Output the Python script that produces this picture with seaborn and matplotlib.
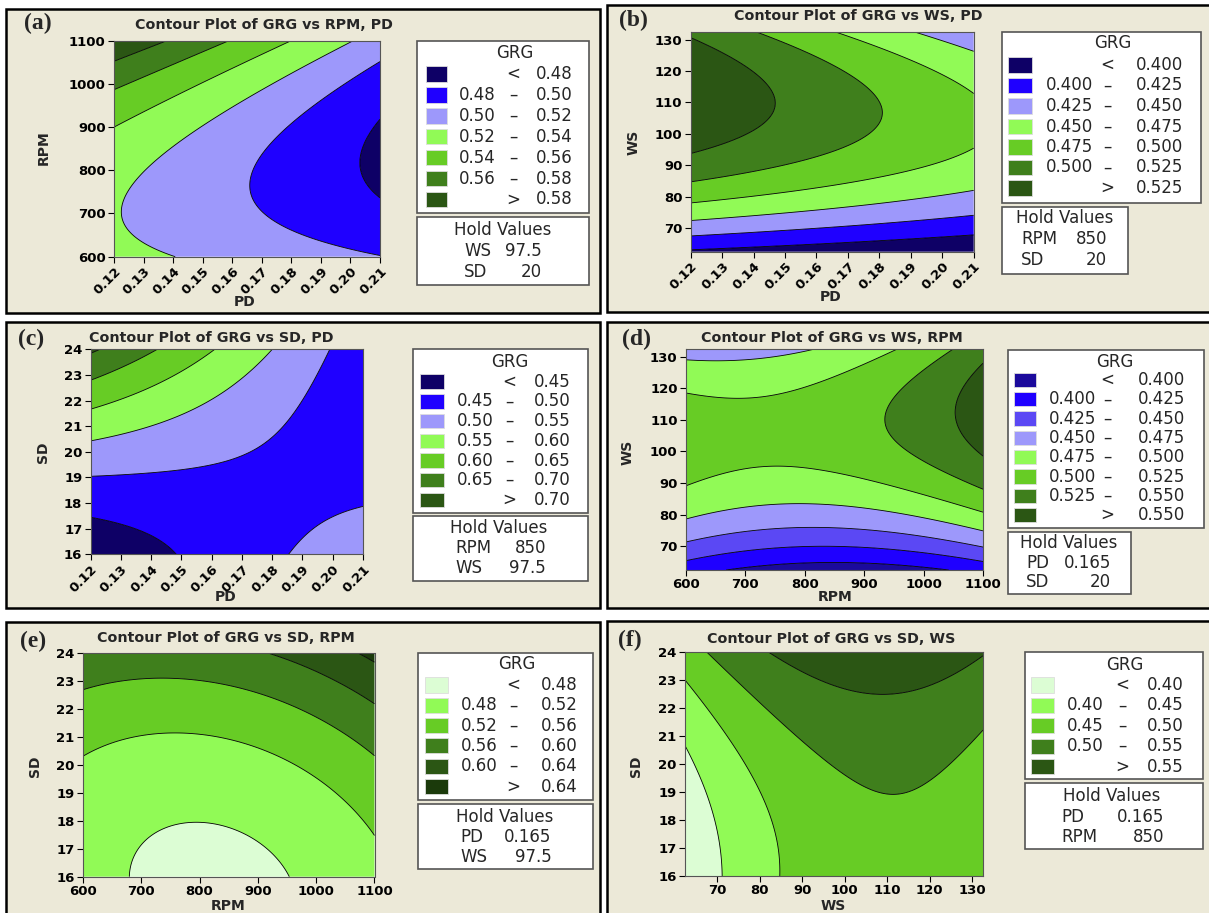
import numpy as np
import matplotlib
matplotlib.use("Agg")
import matplotlib.pyplot as plt
from matplotlib.patches import Rectangle
import seaborn as sns

sns.set_style("ticks")
plt.rcParams['font.family'] = ['DejaVu Sans']

# ---------------- data ----------------
PD_TICKS = [0.12, 0.13, 0.14, 0.15, 0.16, 0.17, 0.18, 0.19, 0.20, 0.21]
RPM_TICKS = [600, 700, 800, 900, 1000, 1100]
WS_TICKS = [70, 80, 90, 100, 110, 120, 130]
SD_TICKS = [16, 17, 18, 19, 20, 21, 22, 23, 24]

PD_RANGE = [0.12, 0.21]
RPM_RANGE = [600, 1100]
WS_RANGE = [62.5, 132.5]
SD_RANGE = [16, 24]

# quadratic response-surface coefficients (coded units):
# [b0, b_x, b_y, b_xx, b_yy, b_xy]
COEF_A = [0.504, -0.0277, 0.0205, 0.0, 0.0297, -0.0151]
COEF_B = [0.5047, -0.0278, 0.0451, 0.0, -0.074, -0.017]
COEF_C = [0.505, -0.0289, 0.0585, 0.0, 0.026, -0.0895]
COEF_D = [0.5065, 0.0188, 0.0461, 0.0228, -0.0732, 0.0197]
COEF_E = [0.5052, 0.019, 0.0593, 0.03, 0.0256, 0.011]
COEF_F = [0.5014, 0.048, 0.0498, -0.064, 0.028, -0.01]

LEVELS_A = [0.48, 0.50, 0.52, 0.54, 0.56, 0.58]
LEVELS_B = [0.400, 0.425, 0.450, 0.475, 0.500, 0.525]
LEVELS_C = [0.45, 0.50, 0.55, 0.60, 0.65, 0.70]
LEVELS_D = [0.400, 0.425, 0.450, 0.475, 0.500, 0.525, 0.550]
LEVELS_E = [0.48, 0.52, 0.56, 0.60, 0.64]
LEVELS_F = [0.40, 0.45, 0.50, 0.55]

HOLD_A = [["WS", "97.5"], ["SD", "20"]]
HOLD_B = [["RPM", "850"], ["SD", "20"]]
HOLD_C = [["RPM", "850"], ["WS", "97.5"]]
HOLD_D = [["PD", "0.165"], ["SD", "20"]]
HOLD_E = [["PD", "0.165"], ["WS", "97.5"]]
HOLD_F = [["PD", "0.165"], ["RPM", "850"]]

TITLES = ["Contour Plot of GRG vs RPM, PD", "Contour Plot of GRG vs WS, PD",
          "Contour Plot of GRG vs SD, PD", "Contour Plot of GRG vs WS, RPM",
          "Contour Plot of GRG vs SD, RPM", "Contour Plot of GRG vs SD, WS"]
TAGS = ["(a)", "(b)", "(c)", "(d)", "(e)", "(f)"]

# ---------------- colours ----------------
NAVY = '#0e0066'; NAVY2 = '#1b0a9c'; BLUE = '#1f00ff'; MIDBLUE = '#5b48f4'
LAV = '#9d98fb'; LGREEN = '#91fa56'; GREEN = '#67cc25'; DGREEN = '#3f7f1c'
DDGREEN = '#2b5614'; DDDGREEN = '#1b3a0b'; PALE = '#dcfdd4'
BG = '#ece9d8'

PAL7 = sns.color_palette([NAVY, BLUE, LAV, LGREEN, GREEN, DGREEN, DDGREEN])
PAL_D = sns.color_palette([NAVY2, BLUE, MIDBLUE, LAV, LGREEN, GREEN, DGREEN, DDGREEN])
PAL_E = sns.color_palette([PALE, LGREEN, GREEN, DGREEN, DDGREEN, DDDGREEN])
PAL_F = sns.color_palette([PALE, LGREEN, GREEN, DGREEN, DDGREEN])

W, H = 1209, 913
fig = plt.figure(figsize=(W / 100, H / 100), dpi=100, facecolor='white')
ov = fig.add_axes([0, 0, 1, 1], zorder=0)
ov.set_xlim(0, W); ov.set_ylim(H, 0); ov.axis('off')


def frect(l, r, t, b):
    return [l / W, 1 - b / H, (r - l) / W, (b - t) / H]


panels = [
    dict(border=(5.5, 600, 9, 313), ax=(114, 380, 40.7, 256.7),
         xr=PD_RANGE, yr=RPM_RANGE, xt=PD_TICKS, yt=RPM_TICKS, xfmt="%.2f", yfmt="%d", rot=True,
         xl="PD", yl="RPM", xlp=(245, 302), ylp=(44, 148),
         coef=COEF_A, lev=LEVELS_A, pal=PAL7, dec=2, hold=HOLD_A,
         title=(264, 25), tag=(24, 23),
         leg=(417, 589, 40.7, 213), grg=(515, 53), row0=74, dy=20.9, sw=(426, 447), n1=496, dash=513, n2=573,
         hbox=(417, 589, 216.7, 285), htitle=(503, 230), hrows=(251, 272), hname=464, hval=542),
    dict(border=(607, 1212, 5, 311.7), ax=(690.7, 973.7, 31.7, 251.7),
         xr=PD_RANGE, yr=WS_RANGE, xt=PD_TICKS, yt=WS_TICKS, xfmt="%.2f", yfmt="%d", rot=True,
         xl="PD", yl="WS", xlp=(831, 297), ylp=(634, 142),
         coef=COEF_B, lev=LEVELS_B, pal=PAL7, dec=3, hold=HOLD_B,
         title=(858, 16), tag=(619, 20),
         leg=(1002, 1201, 31.7, 202.7), grg=(1113, 43.3), row0=65, dy=20.5, sw=(1008, 1032), n1=1093, dash=1107, n2=1183,
         hbox=(1002, 1128, 206.7, 274), htitle=(1064.5, 218), hrows=(239, 260), hname=1021, hval=1107),
    dict(border=(5.5, 600, 322, 608), ax=(90.7, 363, 349.3, 554.3),
         xr=PD_RANGE, yr=SD_RANGE, xt=PD_TICKS, yt=SD_TICKS, xfmt="%.2f", yfmt="%d", rot=True,
         xl="PD", yl="SD", xlp=(226, 597), ylp=(42.5, 452),
         coef=COEF_C, lev=LEVELS_C, pal=PAL7, dec=2, hold=HOLD_C,
         title=(211, 337.7), tag=(18, 339),
         leg=(413, 587.6, 349, 513), grg=(510, 361.7), row0=381.7, dy=19.7, sw=(420, 443.6), n1=494, dash=509, n2=571,
         hbox=(413, 587.6, 516, 581), htitle=(499, 528), hrows=(548, 568), hname=455, hval=546),
    dict(border=(607, 1212, 322, 608), ax=(686, 983, 348.7, 570),
         xr=RPM_RANGE, yr=WS_RANGE, xt=RPM_TICKS, yt=WS_TICKS, xfmt="%d", yfmt="%d", rot=False,
         xl="RPM", yl="WS", xlp=(835, 597), ylp=(628, 452),
         coef=COEF_D, lev=LEVELS_D, pal=PAL_D, dec=3, hold=HOLD_D,
         title=(832, 337.7), tag=(622, 339),
         leg=(1008, 1204, 350, 527.7), grg=(1115, 361.7), row0=380, dy=19.3, sw=(1014, 1036), n1=1096, dash=1107, n2=1185,
         hbox=(1008, 1131, 532, 594), htitle=(1069, 543), hrows=(562.7, 581.7), hname=1026, hval=1111),
    dict(border=(5.5, 600, 621.7, 916), ax=(83, 374.5, 652.7, 876.7),
         xr=RPM_RANGE, yr=SD_RANGE, xt=RPM_TICKS, yt=SD_TICKS, xfmt="%d", yfmt="%d", rot=False,
         xl="RPM", yl="SD", xlp=(228, 906), ylp=(35, 766.7),
         coef=COEF_E, lev=LEVELS_E, pal=PAL_E, dec=2, hold=HOLD_E,
         title=(226, 637.7), tag=(20, 641.7),
         leg=(418, 592.7, 652.7, 800), grg=(516.6, 664), row0=685, dy=20.3, sw=(425, 448), n1=498, dash=513, n2=578,
         hbox=(418, 592.7, 804, 869), htitle=(505, 816.7), hrows=(836.7, 856.7), hname=460.5, hval=551.7),
    dict(border=(607, 1212, 620.7, 916), ax=(685, 983, 652, 876),
         xr=WS_RANGE, yr=SD_RANGE, xt=WS_TICKS, yt=SD_TICKS, xfmt="%d", yfmt="%d", rot=False,
         xl="WS", yl="SD", xlp=(833, 906), ylp=(636, 766.7),
         coef=COEF_F, lev=LEVELS_F, pal=PAL_F, dec=2, hold=HOLD_F,
         title=(831, 639), tag=(618, 640),
         leg=(1025, 1203, 651.7, 779), grg=(1125, 665), row0=685, dy=20.4, sw=(1031, 1054), n1=1104, dash=1122, n2=1184,
         hbox=(1025, 1203, 782.7, 849), htitle=(1112, 795.7), hrows=(816.7, 837.3), hname=1061, hval=1164),
]

for i, p in enumerate(panels):
    # panel background
    l, r, t, b = p['border']
    ov.add_patch(Rectangle((l, t), r - l, b - t, facecolor=BG, edgecolor='black', lw=1.8, zorder=0))
    ov.text(p['tag'][0], p['tag'][1], TAGS[i], family='Liberation Serif', fontweight='bold',
            fontsize=17, ha='left', va='center', zorder=3)
    ov.text(p['title'][0], p['title'][1], TITLES[i], fontweight='bold', fontsize=10.3,
            ha='center', va='center', zorder=3)
    ov.text(p['xlp'][0], p['xlp'][1], p['xl'], fontweight='bold', fontsize=10, ha='center', va='center')
    ov.text(p['ylp'][0], p['ylp'][1], p['yl'], fontweight='bold', fontsize=10, ha='center', va='center',
            rotation=90)

    # contour plot
    ax = fig.add_axes(frect(*p['ax']), zorder=2)
    x0, x1 = p['xr']; y0, y1 = p['yr']
    xs = np.linspace(x0, x1, 400); ys = np.linspace(y0, y1, 400)
    XX, YY = np.meshgrid(xs, ys)
    Xc = (XX - (x0 + x1) / 2) / ((x1 - x0) / 2)
    Yc = (YY - (y0 + y1) / 2) / ((y1 - y0) / 2)
    c0, cx, cy, cxx, cyy, cxy = p['coef']
    Z = c0 + cx * Xc + cy * Yc + cxx * Xc ** 2 + cyy * Yc ** 2 + cxy * Xc * Yc
    lev = p['lev']
    ax.contourf(XX, YY, Z, levels=[Z.min() - 1] + lev + [Z.max() + 1], colors=p['pal'], antialiased=True)
    ax.contour(XX, YY, Z, levels=lev, colors='black', linewidths=0.6)
    ax.set_xlim(x0, x1); ax.set_ylim(y0, y1)
    ax.set_xticks(p['xt']); ax.set_yticks(p['yt'])
    if p['rot']:
        ax.set_xticklabels([p['xfmt'] % v for v in p['xt']], rotation=45, ha='right',
                           rotation_mode='anchor', fontweight='bold', fontsize=9.5)
    else:
        ax.set_xticklabels([p['xfmt'] % v for v in p['xt']], fontweight='bold', fontsize=9.5)
    ax.set_yticklabels([p['yfmt'] % v for v in p['yt']], fontweight='bold', fontsize=9.5)
    ax.tick_params(direction='out', length=4, width=0.8, pad=2, colors='black')
    for s in ax.spines.values():
        s.set_color('#555555'); s.set_linewidth(0.8)

    # legend box
    L, R, T, B = p['leg']
    ov.add_patch(Rectangle((L, T), R - L, B - T, facecolor='white', edgecolor='#555555', lw=1.2, zorder=1))
    ov.text(p['grg'][0], p['grg'][1], "GRG", fontsize=12, ha='center', va='center', zorder=3)
    fmt = "%%.%df" % p['dec']
    n = len(lev) + 1
    for k in range(n):
        yk = p['row0'] + k * p['dy']
        sh = p['dy'] * 0.74
        ov.add_patch(Rectangle((p['sw'][0], yk - sh / 2), p['sw'][1] - p['sw'][0], sh,
                               facecolor=p['pal'][k], edgecolor='#dddddd', lw=0.6, zorder=2))
        if k == 0:
            ov.text(p['dash'], yk, "<", fontsize=12, ha='center', va='center', zorder=3)
            ov.text(p['n2'], yk, fmt % lev[0], fontsize=12, ha='right', va='center', zorder=3)
        elif k == n - 1:
            ov.text(p['dash'], yk, ">", fontsize=12, ha='center', va='center', zorder=3)
            ov.text(p['n2'], yk, fmt % lev[-1], fontsize=12, ha='right', va='center', zorder=3)
        else:
            ov.text(p['n1'], yk, fmt % lev[k - 1], fontsize=12, ha='right', va='center', zorder=3)
            ov.text(p['dash'], yk, "\u2013", fontsize=12, ha='center', va='center', zorder=3)
            ov.text(p['n2'], yk, fmt % lev[k], fontsize=12, ha='right', va='center', zorder=3)

    # hold values box
    L, R, T, B = p['hbox']
    ov.add_patch(Rectangle((L, T), R - L, B - T, facecolor='white', edgecolor='#555555', lw=1.2, zorder=1))
    ov.text(p['htitle'][0], p['htitle'][1], "Hold Values", fontsize=12, ha='center', va='center', zorder=3)
    for (name, val), yk in zip(p['hold'], p['hrows']):
        ov.text(p['hname'], yk, name, fontsize=12, ha='left', va='center', zorder=3)
        ov.text(p['hval'], yk, val, fontsize=12, ha='right', va='center', zorder=3)

fig.savefig("out.png", dpi=100, facecolor='white')
